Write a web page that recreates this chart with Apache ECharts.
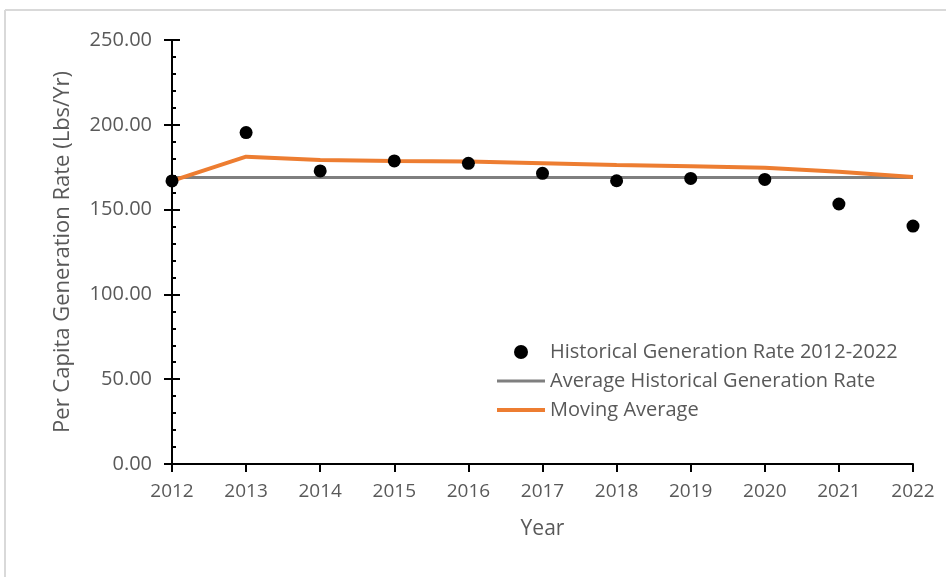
<!DOCTYPE html>
<html>
<head>
<meta charset="utf-8">
<script src="https://cdn.jsdelivr.net/npm/echarts@6/dist/echarts.min.js"></script>
<style>
  html, body { margin: 0; padding: 0; background: #fff; }
  #chart { width: 946px; height: 577px; }
</style>
</head>
<body>
<div id="chart"></div>
<script>
const years = ['2012','2013','2014','2015','2016','2017','2018','2019','2020','2021','2022'];
const historical = [166.9, 195.4, 172.8, 178.7, 177.3, 171.4, 167.0, 168.4, 167.8, 153.3, 140.3];
const averageRate = [169.0, 169.0, 169.0, 169.0, 169.0, 169.0, 169.0, 169.0, 169.0, 169.0, 169.0];
const movingAverage = [166.9, 181.2, 179.2, 178.7, 178.3, 177.3, 176.3, 175.5, 174.7, 172.3, 169.2];
const seriesNames = ['Historical Generation Rate 2012-2022', 'Average Historical Generation Rate', 'Moving Average'];

const FONT = 'Open Sans';
const chart = echarts.init(document.getElementById('chart'));
const yCommon = {
  type: 'value', min: 0, max: 250, interval: 50,
  splitLine: { show: false }
};
chart.setOption({
  animation: false,
  textStyle: { fontFamily: FONT },
  graphic: [
    { type: 'line', shape: { x1: 5, y1: 10, x2: 946, y2: 10 }, style: { stroke: '#d9d9d9', lineWidth: 2 } },
    { type: 'line', shape: { x1: 5, y1: 10, x2: 5, y2: 577 }, style: { stroke: '#d9d9d9', lineWidth: 2 } }
  ],
  grid: { left: 172, right: 33, top: 40, bottom: 113, containLabel: false },
  legend: {
    orient: 'vertical', left: 490, top: 337,
    itemWidth: 48, itemHeight: 14, itemGap: 9,
    textStyle: { fontFamily: FONT, fontSize: 20, color: '#595959', padding: [0, 0, 0, 0] },
    data: [
      { name: seriesNames[0], icon: 'circle' },
      { name: seriesNames[1], itemStyle: { opacity: 0 }, lineStyle: { width: 3, color: '#7f7f7f' } },
      { name: seriesNames[2], itemStyle: { opacity: 0 }, lineStyle: { width: 4, color: '#ed7d31' } }
    ]
  },
  xAxis: {
    type: 'category', data: years, boundaryGap: false,
    name: 'Year', nameLocation: 'middle', nameGap: 55,
    nameTextStyle: { fontFamily: FONT, fontSize: 21, color: '#595959' },
    axisLine: { lineStyle: { color: '#000', width: 2 } },
    axisTick: { show: true, length: 8, inside: false, alignWithLabel: true, lineStyle: { color: '#000', width: 2 } },
    axisLabel: { margin: 18, fontFamily: FONT, fontSize: 19, color: '#595959' }
  },
  yAxis: [
    Object.assign({}, yCommon, {
      name: 'Per Capita Generation Rate (Lbs/Yr)', nameLocation: 'middle', nameGap: 98,
      nameTextStyle: { fontFamily: FONT, fontSize: 22, color: '#595959' },
      axisLine: { show: true, lineStyle: { color: '#000', width: 2 } },
      axisTick: { show: true, length: 8, inside: false, lineStyle: { color: '#000', width: 2 } },
      axisLabel: { margin: 20, fontFamily: FONT, fontSize: 20, color: '#595959', formatter: v => v.toFixed(2) }
    }),
    Object.assign({}, yCommon, {
      position: 'left',
      axisLine: { show: false },
      axisTick: { show: true, length: 8, inside: true, lineStyle: { color: '#000', width: 2 } },
      minorTick: { show: true, splitNumber: 5, length: 4, lineStyle: { color: '#000', width: 2 } },
      axisLabel: { show: false }
    })
  ],
  series: [
    {
      name: seriesNames[1], type: 'line', data: averageRate, yAxisIndex: 0,
      symbol: 'none', lineStyle: { color: '#7f7f7f', width: 3 }, itemStyle: { color: '#7f7f7f' }, z: 2
    },
    {
      name: seriesNames[2], type: 'line', data: movingAverage, yAxisIndex: 0,
      symbol: 'none', lineStyle: { color: '#ed7d31', width: 4 }, itemStyle: { color: '#ed7d31' }, z: 3
    },
    {
      name: seriesNames[0], type: 'scatter', data: historical, yAxisIndex: 0,
      symbol: 'circle', symbolSize: 13, itemStyle: { color: '#000', opacity: 1 }, z: 4
    }
  ]
});
</script>
</body>
</html>
